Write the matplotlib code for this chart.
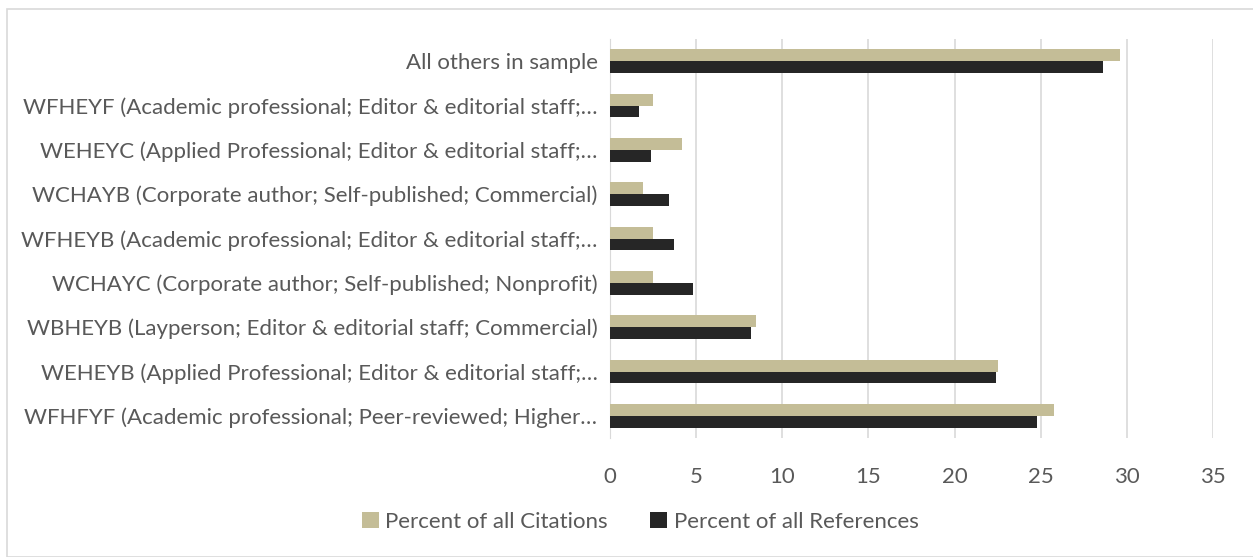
import numpy as np
import matplotlib
matplotlib.use('Agg')
import matplotlib.pyplot as plt
from matplotlib.patches import Rectangle

# categories listed bottom to top
labels = ['WFHFYF (Academic professional; Peer-reviewed; Higher…',
          'WEHEYB (Applied Professional; Editor & editorial staff;…',
          'WBHEYB (Layperson; Editor & editorial staff; Commercial)',
          'WCHAYC (Corporate author; Self-published; Nonprofit)',
          'WFHEYB (Academic professional; Editor & editorial staff;…',
          'WCHAYB (Corporate author; Self-published; Commercial)',
          'WEHEYC (Applied Professional; Editor & editorial staff;…',
          'WFHEYF (Academic professional; Editor & editorial staff;…',
          'All others in sample']
citations = [25.8, 22.5, 8.5, 2.5, 2.5, 1.9, 4.2, 2.5, 29.6]
references = [24.8, 22.4, 8.2, 4.8, 3.7, 3.4, 2.4, 1.7, 28.6]
xticks = [0, 5, 10, 15, 20, 25, 30, 35]

plt.rcParams['font.family'] = ['Lato', 'DejaVu Sans']
tan = '#C4BD97'
dark = '#262626'
txt = '#595959'

fig = plt.figure(figsize=(12.53, 5.57), dpi=100)
ax = fig.add_axes([610 / 1253, 1 - 438 / 557, (1213 - 610) / 1253, (438 - 39) / 557])

y = np.arange(len(labels))
h = 0.265
ax.barh(y + h / 2, citations, height=h, color=tan, label='Percent of all Citations', zorder=3)
ax.barh(y - h / 2, references, height=h, color=dark, label='Percent of all References', zorder=3)

ax.set_xlim(0, 35)
ax.set_ylim(-0.5, len(labels) - 0.5)
ax.set_xticks(xticks)
ax.set_xticklabels([str(t) for t in xticks], fontsize=16, color=txt)
ax.set_yticks(y)
ax.set_yticklabels(labels, fontsize=16, color=txt)
ax.tick_params(axis='both', length=0)
ax.tick_params(axis='x', pad=21)
ax.tick_params(axis='y', pad=9)
ax.grid(axis='x', color='#D9D9D9', linewidth=1.2, zorder=0)
for s in ['top', 'right', 'bottom']:
    ax.spines[s].set_visible(False)
ax.spines['left'].set_color('#D9D9D9')

fig.legend(loc='center', bbox_to_anchor=(0.511, 1 - 522 / 557), ncol=2, frameon=False,
           fontsize=16, labelcolor=txt, handlelength=0.75, handleheight=0.75,
           handletextpad=0.3, columnspacing=1.9)

fig.patches.append(Rectangle((7 / 1253, 0.0), 1.0, 1 - 9 / 557, transform=fig.transFigure,
                             fill=False, edgecolor='#D9D9D9', linewidth=1.2))

plt.savefig('out.png', dpi=100)
